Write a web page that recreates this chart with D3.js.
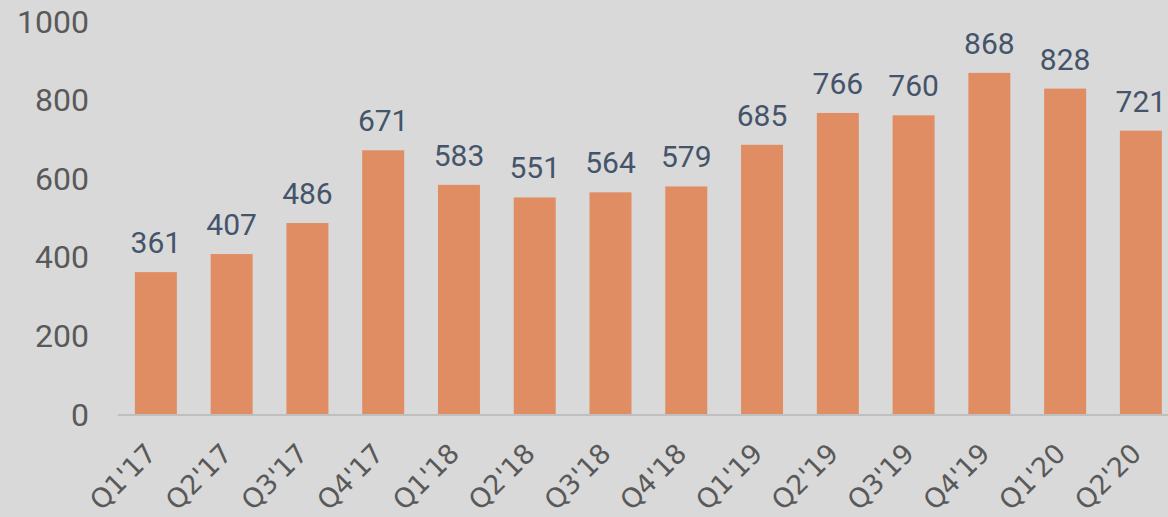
<!DOCTYPE html>
<html>
<head>
<meta charset="utf-8">
<script src="https://cdn.jsdelivr.net/npm/d3@7"></script>
<style>
  html, body { margin: 0; padding: 0; background: #d9d9d9; overflow: hidden; }
</style>
</head>
<body>
<div id="container"></div>
<script>
/* DATA */
const quarters = ["Q1'17", "Q2'17", "Q3'17", "Q4'17", "Q1'18", "Q2'18", "Q3'18",
  "Q4'18", "Q1'19", "Q2'19", "Q3'19", "Q4'19", "Q1'20", "Q2'20"];
const values = [361, 407, 486, 671, 583, 551, 564, 579, 685, 766, 760, 868, 828, 721];
const yTicks = [0, 200, 400, 600, 800, 1000];

/* CONSTANTS */
const width = 1168, height = 517;
const font = "Roboto, 'Open Sans', sans-serif";

const svg = d3.select("#container").append("svg")
  .attr("width", width)
  .attr("height", height)
  .style("display", "block");

svg.append("rect").attr("width", width).attr("height", height).attr("fill", "#d9d9d9");

// SCALES
const x = d3.scaleBand()
  .domain(quarters)
  .range([118, 118 + 14 * 75.77])
  .paddingInner(0.446)
  .paddingOuter(0.223);

const y = d3.scaleLinear()
  .domain([0, 1000])
  .range([414, 21]);

// Y AXIS (labels only)
svg.selectAll("text.ytick")
  .data(yTicks)
  .join("text")
  .attr("class", "ytick")
  .attr("x", 89)
  .attr("y", d => y(d))
  .attr("dy", "0.36em")
  .attr("text-anchor", "end")
  .attr("font-family", font)
  .attr("font-size", 32)
  .attr("fill", "#595959")
  .text(d => d);

// BARS
svg.selectAll("rect.bar")
  .data(values)
  .join("rect")
  .attr("class", "bar")
  .attr("x", (d, i) => x(quarters[i]))
  .attr("y", d => y(d))
  .attr("width", x.bandwidth())
  .attr("height", d => y(0) - y(d))
  .attr("fill", "#e08d64");

// BASELINE
svg.append("line")
  .attr("x1", 118).attr("x2", width)
  .attr("y1", y(0) + 1).attr("y2", y(0) + 1)
  .attr("stroke", "#bfbfbf")
  .attr("stroke-width", 2);

// VALUE LABELS
svg.selectAll("text.val")
  .data(values)
  .join("text")
  .attr("class", "val")
  .attr("x", (d, i) => x(quarters[i]) + x.bandwidth() / 2)
  .attr("y", d => y(d) - 19)
  .attr("text-anchor", "middle")
  .attr("font-family", font)
  .attr("font-size", 30)
  .attr("fill", "#44546a")
  .text(d => d);

// X LABELS (rotated)
svg.selectAll("text.xlab")
  .data(quarters)
  .join("text")
  .attr("class", "xlab")
  .attr("transform", d => `translate(${x(d) + x.bandwidth() / 2 + 2}, ${y(0) + 41}) rotate(-45)`)
  .attr("text-anchor", "end")
  .attr("font-family", "'DejaVu Sans', sans-serif")
  .attr("font-size", 27)
  .attr("fill", "#595959")
  .text(d => d);
</script>
</body>
</html>
